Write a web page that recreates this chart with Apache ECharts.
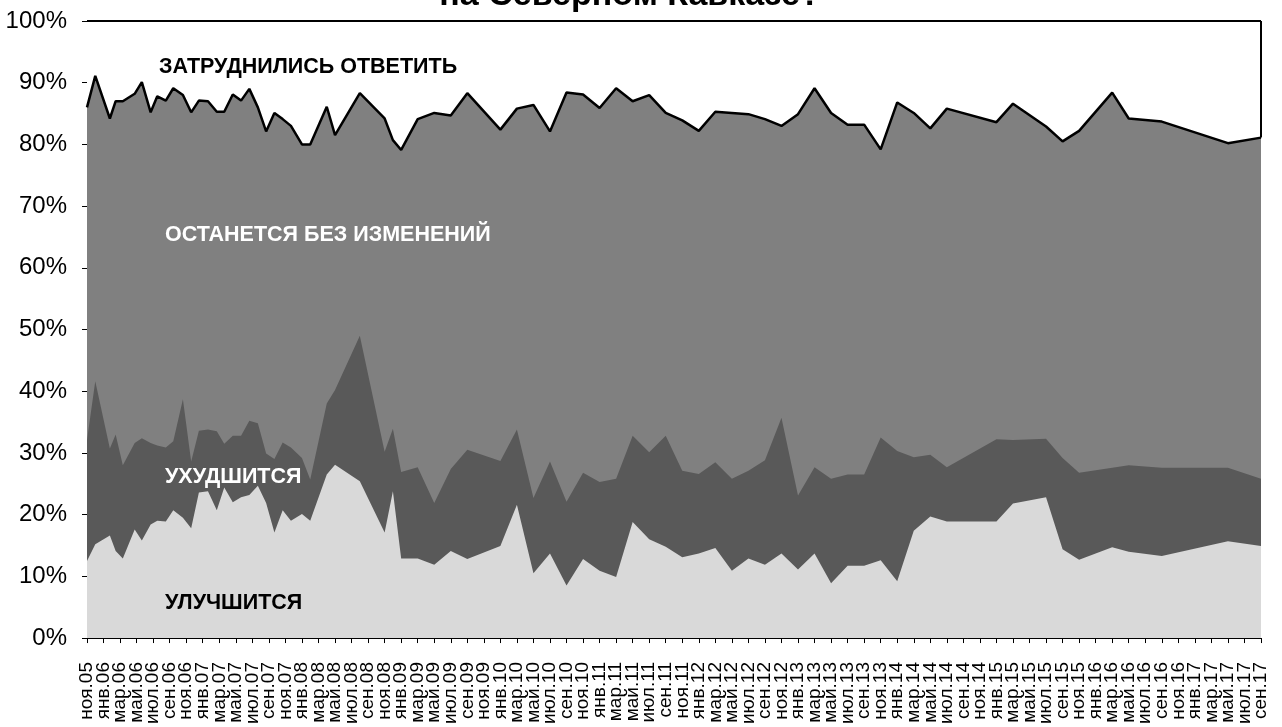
<!DOCTYPE html>
<html>
<head>
<meta charset="utf-8">
<script src="https://cdn.jsdelivr.net/npm/echarts@6/dist/echarts.min.js"></script>
<style>
html,body{margin:0;padding:0;background:#fff;}
#chart{width:1282px;height:727px;}
</style>
</head>
<body>
<div id="chart"></div>
<script>
// Survey dates (date axis, base = ноя.05)
const surveyDates = ['2005-11-01','2005-12-01','2006-01-24','2006-02-15','2006-03-11','2006-04-24','2006-05-20','2006-06-22','2006-07-16','2006-08-17','2006-09-14','2006-10-19','2006-11-19','2006-12-17','2007-01-20','2007-02-22','2007-03-19','2007-04-20','2007-05-20','2007-06-20','2007-07-21','2007-08-21','2007-09-21','2007-10-21','2007-11-21','2008-01-01','2008-02-01','2008-04-01','2008-05-01','2008-08-01','2008-11-01','2008-12-01','2009-01-01','2009-03-01','2009-05-01','2009-07-01','2009-09-01','2010-01-01','2010-03-01','2010-05-01','2010-07-01','2010-09-01','2010-11-01','2011-01-01','2011-03-01','2011-05-01','2011-07-01','2011-09-01','2011-11-01','2012-01-01','2012-03-01','2012-05-01','2012-07-01','2012-09-01','2012-11-01','2013-01-01','2013-03-01','2013-05-01','2013-07-01','2013-09-01','2013-11-01','2014-01-01','2014-03-01','2014-05-01','2014-07-01','2015-01-01','2015-03-01','2015-07-01','2015-09-01','2015-11-01','2016-03-01','2016-05-01','2016-09-01','2017-05-01','2017-09-01'];

// УЛУЧШИТСЯ
const improve = [12.5,15.2,16.6,14.1,12.9,17.6,15.8,18.4,19.0,18.9,20.7,19.5,17.8,23.6,23.8,20.7,24.4,22.0,22.8,23.2,24.7,21.9,17.1,20.7,19.0,20.1,19.0,26.5,28.1,25.4,17.1,23.8,12.9,12.9,11.9,14.1,12.8,14.9,21.6,10.5,13.7,8.5,12.8,10.9,9.9,18.8,16.0,14.8,13.1,13.7,14.6,10.9,12.9,11.9,13.7,11.1,13.7,8.9,11.7,11.7,12.6,9.2,17.4,19.7,18.9,18.9,21.8,22.8,14.4,12.7,14.7,14.0,13.3,15.7,14.9];
// УХУДШИТСЯ
const worsen = [19.6,26.4,14.1,18.9,15.1,14.0,16.6,13.2,12.2,12.0,11.2,19.2,10.8,10.0,10.0,12.8,7.1,10.8,10.0,12.0,10.1,8.0,11.9,11.0,11.9,9.1,6.7,11.5,12.1,23.6,13.1,10.1,14.0,14.8,10.0,13.3,17.7,13.8,12.2,12.2,14.9,13.6,14.0,14.4,15.9,14.0,14.1,18.0,14.0,12.9,13.9,14.9,14.2,16.9,22.0,12.0,14.0,16.9,14.8,14.8,19.9,21.1,11.9,10.0,8.8,13.3,10.3,9.5,14.8,14.1,12.9,14.0,14.3,11.9,10.9];
// ОСТАНЕТСЯ БЕЗ ИЗМЕНЕНИЙ
const noChange = [53.9,49.5,53.5,54.0,59.0,56.6,57.7,53.6,56.6,56.2,57.2,49.3,56.6,53.5,53.2,51.8,53.8,55.3,54.3,53.8,51.2,52.2,56.1,52.4,52.1,50.8,54.3,48.1,41.3,39.3,54.0,46.8,52.2,56.4,63.2,57.3,57.8,53.7,52.0,63.7,53.5,66.3,61.3,60.6,63.3,54.2,57.9,52.3,56.8,55.6,56.8,59.3,57.8,55.3,47.3,61.8,61.4,59.3,56.7,56.7,46.7,56.5,55.8,52.9,58.1,51.4,54.5,50.6,51.3,55.4,60.8,56.2,56.1,52.6,55.3];
// ЗАТРУДНИЛИСЬ ОТВЕТИТЬ
const hardToSay = [14.0,8.9,15.8,13.0,13.0,11.8,9.9,14.8,12.2,12.9,10.9,12.0,14.8,12.9,13.0,14.7,14.7,11.9,12.9,11.0,14.0,17.9,14.9,15.9,17.0,20.0,20.0,13.9,18.5,11.7,15.8,19.3,20.9,15.9,14.9,15.3,11.7,17.6,14.2,13.6,17.9,11.6,11.9,14.1,10.9,13.0,12.0,14.9,16.1,17.8,14.7,14.9,15.1,15.9,17.0,15.1,10.9,14.9,16.8,16.8,20.8,13.2,14.9,17.4,14.2,16.4,13.4,17.1,19.5,17.8,11.6,15.8,16.3,19.8,18.9];

// Tick labels (every 2 months)
const tickLabels = ['ноя.05','янв.06','мар.06','май.06','июл.06','сен.06','ноя.06','янв.07','мар.07','май.07','июл.07','сен.07','ноя.07','янв.08','мар.08','май.08','июл.08','сен.08','ноя.08','янв.09','мар.09','май.09','июл.09','сен.09','ноя.09','янв.10','мар.10','май.10','июл.10','сен.10','ноя.10','янв.11','мар.11','май.11','июл.11','сен.11','ноя.11','янв.12','мар.12','май.12','июл.12','сен.12','ноя.12','янв.13','мар.13','май.13','июл.13','сен.13','ноя.13','янв.14','мар.14','май.14','июл.14','сен.14','ноя.14','янв.15','мар.15','май.15','июл.15','сен.15','ноя.15','янв.16','мар.16','май.16','июл.16','сен.16','ноя.16','янв.17','мар.17','май.17','июл.17','сен.17'];

const seriesNames = ['УЛУЧШИТСЯ','УХУДШИТСЯ','ОСТАНЕТСЯ БЕЗ ИЗМЕНЕНИЙ','ЗАТРУДНИЛИСЬ ОТВЕТИТЬ'];
const titleText = 'на Северном Кавказе?';

function monthIndex(d) {
  const p = d.split('-').map(Number);
  return (p[0] - 2005) * 12 + (p[1] - 11) + (p[2] - 1) / 30;
}
const xs = surveyDates.map(monthIndex);
const xMax = (tickLabels.length - 1) * 2;

// cumulative (stacked) levels, bottom to top
const layers = [improve, worsen, noChange, hardToSay];
const cum = [];
layers.forEach((arr, k) => {
  cum.push(arr.map((v, i) => +(((k ? cum[k - 1][i] : 0) + v).toFixed(2))));
});
const pairs = arr => arr.map((v, i) => [xs[i], v]);

const last = xs.length - 1;

const FONT = 'Arial, "Liberation Sans", sans-serif';
const colors = ['#d9d9d9', '#595959', '#808080', '#ffffff'];

function areaSeries(k, line) {
  return {
    name: seriesNames[k], type: 'line', symbol: 'none', z: 2, xAxisIndex: 0,
    lineStyle: line || {opacity: 0},
    areaStyle: {color: colors[k], opacity: 1, origin: 'start'},
    data: pairs(cum[k])
  };
}

const topSeries = areaSeries(3, {color: '#000', width: 2});
topSeries.markLine = {
  silent: true, symbol: 'none', label: {show: false},
  lineStyle: {color: '#000', width: 2, type: 'solid'},
  data: [[{coord: [xs[last], cum[2][last]]}, {coord: [xs[last], cum[3][last]]}]]
};

const chart = echarts.init(document.getElementById('chart'), null, {renderer: 'canvas'});
chart.setOption({
  animation: false,
  backgroundColor: '#ffffff',
  grid: {left: 87, right: 21, top: 21, bottom: 86, containLabel: false},
  xAxis: [
    {
      type: 'value', min: 0, max: xMax, interval: 2, position: 'bottom',
      axisLine: {show: true, onZero: false, lineStyle: {color: '#000', width: 1}},
      axisTick: {show: false},
      splitLine: {show: false},
      axisLabel: {show: false}
    },
    {
      type: 'category', data: tickLabels, boundaryGap: false, position: 'bottom',
      axisLine: {show: true, onZero: false, lineStyle: {color: '#000', width: 1}},
      axisTick: {show: true, interval: 0, length: 5, lineStyle: {color: '#000'}},
      splitLine: {show: false},
      axisLabel: {interval: 0, rotate: 90, margin: 24, fontSize: 19, color: '#000', fontFamily: FONT}
    }
  ],
  yAxis: {
    type: 'value', min: 0, max: 100, interval: 10,
    axisLine: {show: true, lineStyle: {color: '#000', width: 1}},
    axisTick: {show: true, length: 5, lineStyle: {color: '#000'}},
    splitLine: {show: false},
    axisLabel: {formatter: '{value}%', fontSize: 24, color: '#000', fontFamily: FONT, margin: 20}
  },
  series: [
    topSeries,
    areaSeries(2, {color: '#000', width: 2.5}),
    areaSeries(1),
    areaSeries(0)
  ],
  graphic: [
    {type: 'text', x: 630, y: -4, z: 10, style: {text: titleText, font: 'bold 34px ' + FONT, fill: '#000', align: 'center', verticalAlign: 'middle'}},
    {type: 'text', x: 159, y: 67, z: 10, style: {text: seriesNames[3], font: 'bold 21.5px ' + FONT, fill: '#000', verticalAlign: 'middle'}},
    {type: 'text', x: 165, y: 235, z: 10, style: {text: seriesNames[2], font: 'bold 21.5px ' + FONT, fill: '#fff', verticalAlign: 'middle'}},
    {type: 'text', x: 165, y: 477, z: 10, style: {text: seriesNames[1], font: 'bold 21.5px ' + FONT, fill: '#fff', verticalAlign: 'middle'}},
    {type: 'text', x: 165, y: 603, z: 10, style: {text: seriesNames[0], font: 'bold 21.5px ' + FONT, fill: '#000', verticalAlign: 'middle'}}
  ]
});
</script>
</body>
</html>
